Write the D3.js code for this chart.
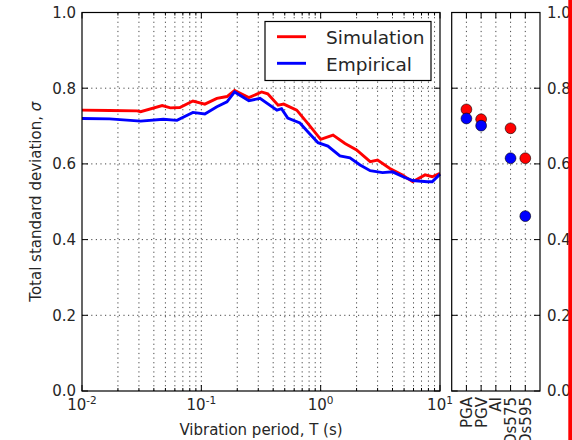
<!DOCTYPE html>
<html>
<head>
<meta charset="utf-8">
<script src="https://cdn.jsdelivr.net/npm/d3@7"></script>
<style>
  body { margin: 0; background: #fff; }
  svg { display: block; font-family: "DejaVu Sans", sans-serif; }
</style>
</head>
<body>
<svg id="chart" width="572" height="440"></svg>
<script>
// values
const simPeriod = [0.01, 0.017, 0.029, 0.031, 0.047, 0.055, 0.066, 0.085, 0.107, 0.135, 0.164, 0.19, 0.25, 0.32, 0.36, 0.44, 0.49, 0.63, 0.78, 1.0, 1.27, 1.6, 2.0, 2.6, 3.0, 3.8, 4.8, 5.9, 7.5, 8.6, 10];
const simSigma  = [0.742, 0.741, 0.740, 0.738, 0.754, 0.748, 0.749, 0.766, 0.758, 0.773, 0.778, 0.794, 0.775, 0.790, 0.785, 0.755, 0.758, 0.742, 0.707, 0.665, 0.676, 0.654, 0.637, 0.606, 0.610, 0.588, 0.571, 0.553, 0.571, 0.566, 0.575];

const empPeriod = [0.01, 0.017, 0.031, 0.048, 0.0625, 0.085, 0.107, 0.135, 0.164, 0.19, 0.25, 0.31, 0.43, 0.47, 0.53, 0.67, 0.78, 0.95, 1.15, 1.45, 1.76, 2.14, 2.6, 3.3, 4.0, 4.9, 5.9, 7.8, 8.6, 10];
const empSigma  = [0.720, 0.719, 0.713, 0.718, 0.715, 0.736, 0.732, 0.751, 0.764, 0.790, 0.767, 0.773, 0.742, 0.746, 0.721, 0.708, 0.685, 0.656, 0.647, 0.621, 0.616, 0.597, 0.582, 0.577, 0.579, 0.566, 0.556, 0.553, 0.553, 0.573];

const imNames = ["PGA", "PGV", "AI", "Ds575", "Ds595"];
const imSim   = [0.744, 0.718, null, 0.694, 0.615];
const imEmp   = [0.720, 0.701, null, 0.615, 0.462];

const yTicks = [0, 0.2, 0.4, 0.6, 0.8, 1.0];
const xMajor = [0.01, 0.1, 1, 10];
const xExp = ["-2", "-1", "0", "1"];

const svg = d3.select("#chart");

const leftP = {x0: 82, x1: 440};
const rightP = {x0: 451.7, x1: 540};
const yTop = 12.5, yBot = 391;

const x = d3.scaleLog().domain([0.01, 10]).range([leftP.x0, leftP.x1]);
const y = d3.scaleLinear().domain([0, 1]).range([yBot, yTop]);
const xc = d3.scaleLinear().domain([-1, 5]).range([rightP.x0, rightP.x1]);

const grid = svg.append("g")
    .attr("stroke", "#000")
    .attr("stroke-width", 0.9)
    .attr("stroke-dasharray", "1.2,3.4")
    .attr("opacity", 0.8);

// left panel grid (major + minor periods)
grid.selectAll(".gx")
    .data(x.ticks().filter(d => d > 0.0100001 && d < 9.9999))
    .enter().append("line")
    .attr("x1", d => x(d)).attr("x2", d => x(d))
    .attr("y1", yTop).attr("y2", yBot);

grid.selectAll(".gy")
    .data(yTicks.slice(1, -1))
    .enter().append("line")
    .attr("x1", leftP.x0).attr("x2", leftP.x1)
    .attr("y1", d => y(d)).attr("y2", d => y(d));

// right panel grid
grid.selectAll(".gc")
    .data(d3.range(imNames.length))
    .enter().append("line")
    .attr("x1", d => xc(d)).attr("x2", d => xc(d))
    .attr("y1", yTop).attr("y2", yBot);

grid.selectAll(".gy2")
    .data(yTicks.slice(1, -1))
    .enter().append("line")
    .attr("x1", rightP.x0).attr("x2", rightP.x1)
    .attr("y1", d => y(d)).attr("y2", d => y(d));

// curves
const line = d3.line()
    .x(d => x(d[0]))
    .y(d => y(d[1]));

svg.append("path")
    .datum(simPeriod.map((p, i) => [p, simSigma[i]]))
    .attr("fill", "none")
    .attr("stroke", "#ff0000")
    .attr("stroke-width", 2.9)
    .attr("d", line);

svg.append("path")
    .datum(empPeriod.map((p, i) => [p, empSigma[i]]))
    .attr("fill", "none")
    .attr("stroke", "#0000ff")
    .attr("stroke-width", 2.9)
    .attr("d", line);

// intensity measure dots
[[imSim, "#ff0000"], [imEmp, "#0000ff"]].forEach(([vals, col]) => {
  svg.append("g").selectAll("circle")
    .data(vals.map((v, i) => [i, v]).filter(d => d[1] != null))
    .enter().append("circle")
    .attr("cx", d => xc(d[0]))
    .attr("cy", d => y(d[1]))
    .attr("r", 5.4)
    .attr("fill", col)
    .attr("stroke", "#000")
    .attr("stroke-width", 0.6);
});

// ticks (inward, all sides)
const ticks = svg.append("g").attr("stroke", "#000").attr("stroke-width", 1);

x.ticks().forEach(d => {
  const len = xMajor.some(m => Math.abs(m - d) < 1e-9) ? 6 : 3;
  ticks.append("line").attr("x1", x(d)).attr("x2", x(d)).attr("y1", yBot).attr("y2", yBot - len);
  ticks.append("line").attr("x1", x(d)).attr("x2", x(d)).attr("y1", yTop).attr("y2", yTop + len);
});

yTicks.forEach(d => {
  [[leftP.x0, 1], [leftP.x1, -1], [rightP.x0, 1], [rightP.x1, -1]].forEach(([px, dir]) => {
    ticks.append("line").attr("x1", px).attr("x2", px + dir * 6).attr("y1", y(d)).attr("y2", y(d));
  });
});

d3.range(imNames.length).forEach(i => {
  ticks.append("line").attr("x1", xc(i)).attr("x2", xc(i)).attr("y1", yBot).attr("y2", yBot - 6);
  ticks.append("line").attr("x1", xc(i)).attr("x2", xc(i)).attr("y1", yTop).attr("y2", yTop + 6);
});

// frames
[leftP, rightP].forEach(p => {
  svg.append("rect")
    .attr("x", p.x0).attr("y", yTop)
    .attr("width", p.x1 - p.x0).attr("height", yBot - yTop)
    .attr("fill", "none")
    .attr("stroke", "#000")
    .attr("stroke-width", 1.2);
});

// tick labels
const fs = 15;
const yl = svg.append("g").attr("font-size", fs).attr("fill", "#262626");
yl.selectAll(".yl")
    .data(yTicks)
    .enter().append("text")
    .attr("x", 76).attr("y", d => y(d)).attr("dy", "0.36em")
    .attr("text-anchor", "end")
    .text(d => d.toFixed(1));

yl.selectAll(".yr")
    .data(yTicks)
    .enter().append("text")
    .attr("x", 547).attr("y", d => y(d)).attr("dy", "0.36em")
    .text(d => d.toFixed(1));

const xl = yl.selectAll(".xl")
    .data(xMajor)
    .enter().append("text")
    .attr("x", d => x(d))
    .attr("y", 410)
    .attr("text-anchor", "middle");
xl.append("tspan").text("10");
xl.append("tspan").attr("font-size", 10.5).attr("dy", -6).text((d, i) => xExp[i]);

yl.selectAll(".cl")
    .data(imNames)
    .enter().append("text")
    .attr("transform", (d, i) => `translate(${xc(i)},397) rotate(-90)`)
    .attr("dy", "0.36em")
    .attr("text-anchor", "end")
    .text(d => d);

// axis titles
svg.append("text")
    .attr("x", (leftP.x0 + leftP.x1) / 2).attr("y", 435)
    .attr("text-anchor", "middle")
    .attr("font-size", fs).attr("fill", "#262626")
    .text("Vibration period, T (s)");

const yt = svg.append("text")
    .attr("transform", `translate(41,${(yTop + yBot) / 2}) rotate(-90)`)
    .attr("text-anchor", "middle")
    .attr("font-size", fs).attr("fill", "#262626");
yt.append("tspan").text("Total standard deviation, ");
yt.append("tspan").attr("font-style", "italic").text("σ");

// legend
const lg = svg.append("g");
lg.append("rect")
    .attr("x", 265).attr("y", 21.5)
    .attr("width", 166).attr("height", 59)
    .attr("fill", "#fff").attr("stroke", "#000").attr("stroke-width", 1.2);
[["Simulation", "#ff0000", 36.7], ["Empirical", "#0000ff", 63.3]].forEach(([name, col, ly]) => {
  lg.append("line").attr("x1", 277).attr("x2", 306).attr("y1", ly).attr("y2", ly)
    .attr("stroke", col).attr("stroke-width", 2.9);
  lg.append("text").attr("x", 326).attr("y", ly + 7.2)
    .attr("font-size", 18.5).attr("fill", "#262626").text(name);
});

// red edge at the right border
svg.append("rect")
    .attr("x", 568.3).attr("y", 0)
    .attr("width", 4).attr("height", 440)
    .attr("fill", "#ff0000");
</script>
</body>
</html>
